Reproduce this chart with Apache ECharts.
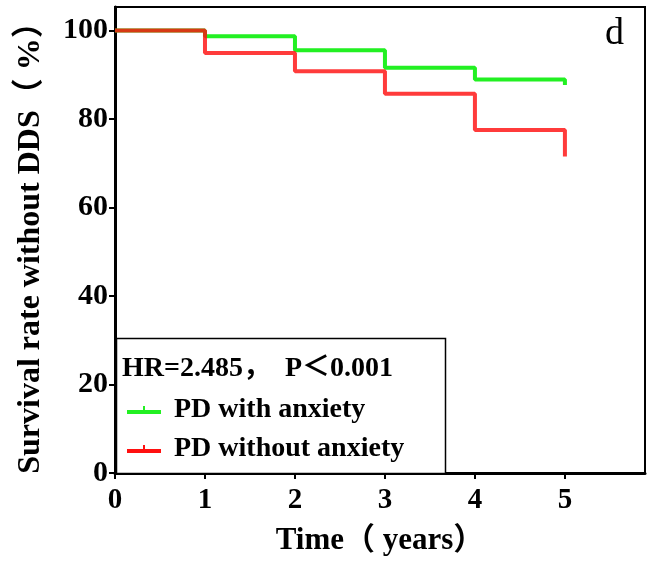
<!DOCTYPE html>
<html>
<head>
<meta charset="utf-8">
<script src="https://cdn.jsdelivr.net/npm/echarts@6/dist/echarts.min.js"></script>
<style>
  html, body { margin: 0; padding: 0; background: #fff; }
  #chart { width: 651px; height: 570px; }
</style>
</head>
<body>
<div id="chart"></div>
<script>
// 数据：生存曲线（时间，生存率 %）
const seriesNames = ['PD with anxiety', 'PD without anxiety'];
const withAnxiety = [[0, 100], [1, 98.7], [2, 95.5], [3, 91.6], [4, 88.9], [5, 88.9], [5, 87.7]];
const withoutAnxiety = [[0, 100], [1, 94.9], [2, 90.8], [3, 85.7], [4, 77.5], [5, 77.5], [5, 71.5]];
const xTicks = [0, 1, 2, 3, 4, 5];
const yTicks = [0, 20, 40, 60, 80, 100];
const statText = 'HR=2.485，  P＜0.001';

const FONT = '"Liberation Serif", "Times New Roman", "Noto Sans CJK SC", serif';

const chart = echarts.init(document.getElementById('chart'));

const option = {
  backgroundColor: '#fff',
  animation: false,
  grid: {
    left: 115, right: 6, top: 7, bottom: 97,
    show: true, borderColor: '#000', borderWidth: 2
  },
  xAxis: {
    type: 'value', min: 0, max: 5.89,
    name: 'Time（ years）', nameLocation: 'middle', nameGap: 52,
    nameTextStyle: { fontFamily: FONT, fontWeight: 'bold', fontSize: 31, color: '#000' },
    axisLine: { lineStyle: { color: '#000', width: 3 } },
    axisTick: { customValues: xTicks, length: 6, lineStyle: { color: '#000', width: 2 } },
    axisLabel: { customValues: xTicks, margin: 13, fontFamily: FONT, fontWeight: 'bold', fontSize: 29, color: '#000' },
    splitLine: { show: false }
  },
  yAxis: {
    type: 'value', min: 0, max: 105.3,
    name: 'Survival rate without DDS（ %）', nameLocation: 'middle', nameGap: 68,
    nameTextStyle: { fontFamily: FONT, fontWeight: 'bold', fontSize: 32, color: '#000' },
    axisLine: { lineStyle: { color: '#000', width: 3 } },
    axisTick: { customValues: yTicks, length: 6, lineStyle: { color: '#000', width: 2 } },
    axisLabel: { customValues: yTicks, margin: 7, fontFamily: FONT, fontWeight: 'bold', fontSize: 30, color: '#000' },
    splitLine: { show: false }
  },
  title: [
    {
      text: 'd', right: 22, top: 10,
      textStyle: { fontFamily: FONT, fontWeight: 'normal', fontSize: 38, color: '#000' }
    },
    {
      text: statText, left: 117, top: 350,
      textStyle: { fontFamily: FONT, fontWeight: 'bold', fontSize: 28, color: '#000' }
    }
  ],
  graphic: [
    {
      type: 'rect', z: 5,
      shape: { x: 116.5, y: 338.5, width: 329, height: 135 },
      style: { fill: '#fff', stroke: '#000', lineWidth: 1.5 }
    }
  ],
  legend: {
    z: 10,
    orient: 'vertical', left: 122, top: 391, itemGap: 11,
    itemWidth: 34, itemHeight: 8,
    icon: 'path://M0,6h34v4h-34z M16,2h2v4h-2z',
    textStyle: { fontFamily: FONT, fontWeight: 'bold', fontSize: 28, color: '#000', padding: [0, 0, 0, 8] },
    data: seriesNames
  },
  series: [
    {
      name: seriesNames[0], type: 'line', step: 'end', data: withAnxiety,
      showSymbol: false, symbol: 'none', z: 2,
      color: '#22f022',
      lineStyle: { color: '#22f022', width: 4 }
    },
    {
      name: seriesNames[1], type: 'line', step: 'end', data: withoutAnxiety,
      showSymbol: false, symbol: 'none', z: 3,
      color: '#ff1010',
      lineStyle: { color: '#ff1010', width: 4, opacity: 0.82 }
    }
  ]
};

chart.setOption(option);
</script>
</body>
</html>
